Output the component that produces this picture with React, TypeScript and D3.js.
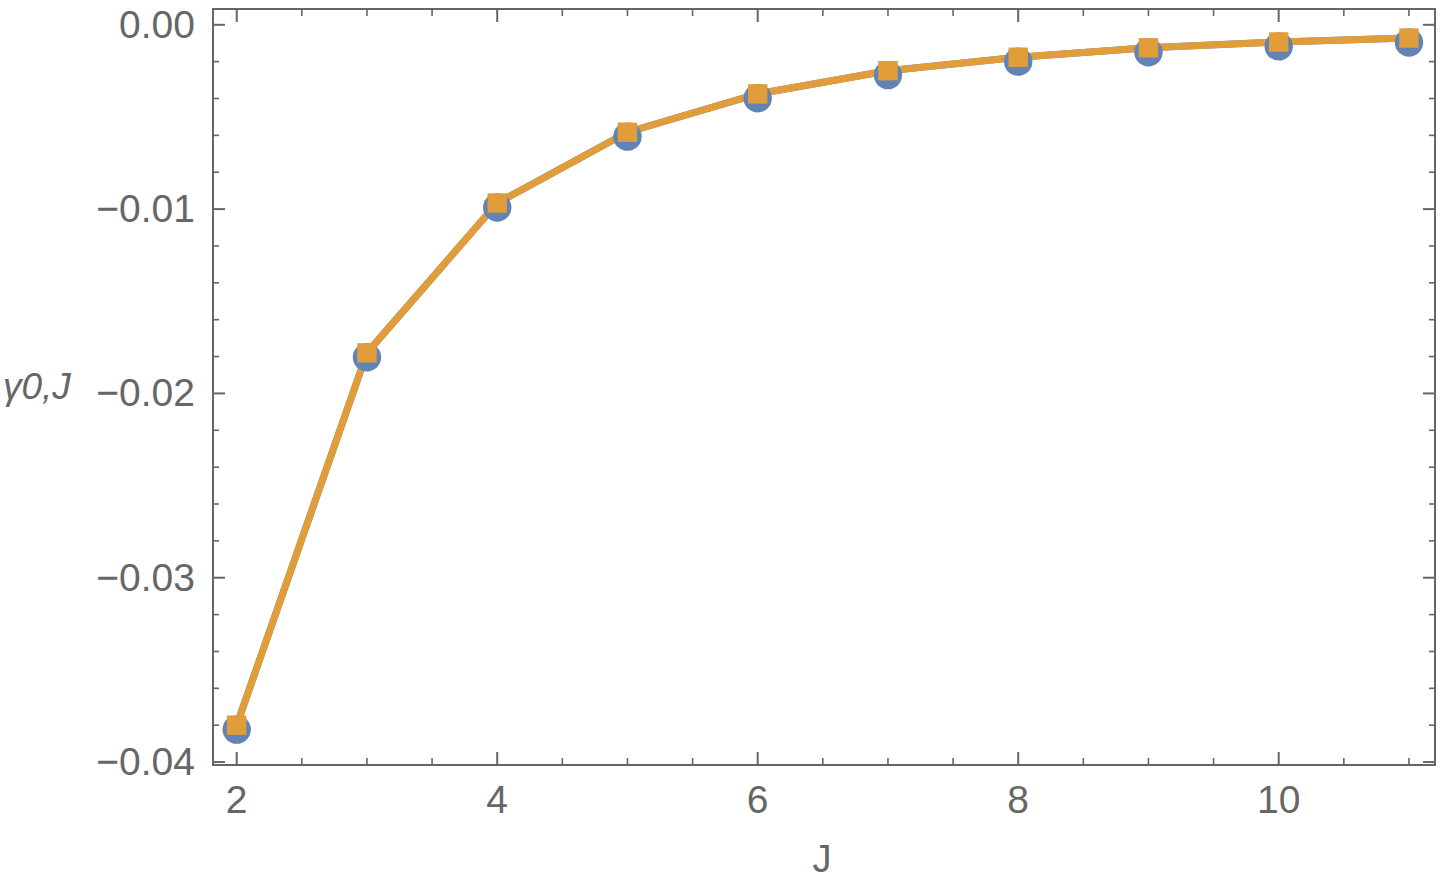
import React from "react";
import * as d3 from "d3";

const Js = [2, 3, 4, 5, 6, 7, 8, 9, 10, 11];
const gammaSeriesA = [-0.038, -0.0178, -0.00967, -0.00583, -0.00375, -0.00249, -0.00176, -0.00125, -0.00093, -0.00072];
const gammaSeriesB = [-0.038, -0.0178, -0.00967, -0.00583, -0.00375, -0.00249, -0.00176, -0.00125, -0.00093, -0.00072];
const xMajorTicks = [2, 4, 6, 8, 10];
const yMajorTicks = [0, -0.01, -0.02, -0.03, -0.04];
const yTickLabels = ["0.00", "\u22120.01", "\u22120.02", "\u22120.03", "\u22120.04"];

const W = 1444, H = 880;
const L = 213, R = 1435, T = 9, B = 765;
const GREY = "#666666";
const BLUE = "#6283B6";
const ORANGE = "#E09D3A";
const FONT = "'Liberation Sans', Arial, Helvetica, sans-serif";

export default function App() {
  const x = d3.scaleLinear().domain([1.818, 11.2]).range([L, R]);
  const y = d3.scaleLinear().domain([-0.04016, 0.000857]).range([B, T]);

  const xMinor = d3.range(2, 11.01, 0.5).filter((v) => !xMajorTicks.includes(v));
  const yMinor = d3.range(0, -0.0401, -0.002).filter(
    (v) => !yMajorTicks.some((m) => Math.abs(m - v) < 1e-9)
  );

  const line = d3
    .line<number>()
    .x((_, i) => x(Js[i]))
    .y((d) => y(d));

  return (
    <svg width={W} height={H} style={{ position: "absolute", left: 0, top: 0, background: "#fff" }}>
      {/* frame */}
      <rect x={L} y={T} width={R - L} height={B - T} fill="none" stroke={GREY} strokeWidth={2} />
      {/* x ticks bottom & top */}
      {xMajorTicks.map((v) => (
        <g key={"xm" + v}>
          <line x1={x(v)} x2={x(v)} y1={B} y2={B - 13} stroke={GREY} strokeWidth={2} />
          <line x1={x(v)} x2={x(v)} y1={T} y2={T + 13} stroke={GREY} strokeWidth={2} />
          <text x={x(v)} y={813} textAnchor="middle" fontFamily={FONT} fontSize={39} fill={GREY}>
            {v}
          </text>
        </g>
      ))}
      {xMinor.map((v) => (
        <g key={"xn" + v}>
          <line x1={x(v)} x2={x(v)} y1={B} y2={B - 7} stroke={GREY} strokeWidth={1.6} />
          <line x1={x(v)} x2={x(v)} y1={T} y2={T + 7} stroke={GREY} strokeWidth={1.6} />
        </g>
      ))}
      {/* y ticks left & right */}
      {yMajorTicks.map((v, i) => (
        <g key={"ym" + i}>
          <line x1={L} x2={L + 12} y1={y(v)} y2={y(v)} stroke={GREY} strokeWidth={2} />
          <line x1={R} x2={R - 12} y1={y(v)} y2={y(v)} stroke={GREY} strokeWidth={2} />
          <text x={195} y={y(v) + 13} textAnchor="end" fontFamily={FONT} fontSize={39} fill={GREY}>
            {yTickLabels[i]}
          </text>
        </g>
      ))}
      {yMinor.map((v, i) => (
        <g key={"yn" + i}>
          <line x1={L} x2={L + 6} y1={y(v)} y2={y(v)} stroke={GREY} strokeWidth={1.6} />
          <line x1={R} x2={R - 6} y1={y(v)} y2={y(v)} stroke={GREY} strokeWidth={1.6} />
        </g>
      ))}
      {/* axis labels */}
      <text x={822} y={872} textAnchor="middle" fontFamily={FONT} fontSize={38} fill={GREY}>
        J
      </text>
      <text x={3} y={399} fontFamily={FONT} fontSize={37} fontStyle="italic" fill={GREY}>
        γ0,J
      </text>
      {/* series lines */}
      <path d={line(gammaSeriesA) || ""} fill="none" stroke={BLUE} strokeWidth={7} strokeLinejoin="round" />
      <path d={line(gammaSeriesB) || ""} fill="none" stroke={ORANGE} strokeWidth={7} strokeLinejoin="round" />
      {/* markers */}
      {gammaSeriesA.map((v, i) => (
        <circle key={"c" + i} cx={x(Js[i])} cy={y(v) + 4.4} r={14.2} fill={BLUE} />
      ))}
      {gammaSeriesB.map((v, i) => (
        <rect key={"s" + i} x={x(Js[i]) - 9.7} y={y(v) - 9.7} width={19.4} height={19.4} fill={ORANGE} />
      ))}
    </svg>
  );
}
